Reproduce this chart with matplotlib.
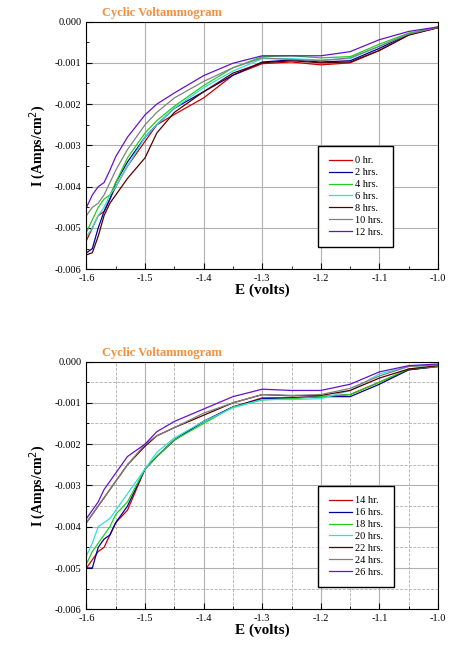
import numpy as np
import matplotlib
matplotlib.use('Agg')
import matplotlib.pyplot as plt
from matplotlib.ticker import MultipleLocator, FormatStrFormatter

plt.rcParams['font.family'] = ['Liberation Serif', 'DejaVu Serif']

E = [-1.6, -1.59, -1.58, -1.57, -1.56, -1.55, -1.53, -1.5, -1.48, -1.45,
     -1.4, -1.35, -1.3, -1.25, -1.2, -1.15, -1.1, -1.05, -1.0]

# first panel, 0-12 hrs (current in A/cm^2)
top_labels = ['0 hr.', '2 hrs.', '4 hrs.', '6 hrs.', '8 hrs.', '10 hrs.', '12 hrs.']
i_0h = [-0.0053, -0.0050, -0.0047, -0.0046, -0.0043, -0.0040, -0.0035, -0.0029, -0.0025, -0.00225,
        -0.00185, -0.0013, -0.00102, -0.00098, -0.00105, -0.0010, -0.0007, -0.00032, -0.00015]
i_2h = [-0.0056, -0.0055, -0.0050, -0.0046, -0.0043, -0.0039, -0.0034, -0.0028, -0.0025, -0.0021,
        -0.0017, -0.0013, -0.00098, -0.00093, -0.00098, -0.00095, -0.00065, -0.0003, -0.00014]
i_4h = [-0.0051, -0.0048, -0.0045, -0.0043, -0.0042, -0.0039, -0.0033, -0.0027, -0.0024, -0.00205,
        -0.00155, -0.00112, -0.00085, -0.00083, -0.00088, -0.00085, -0.00055, -0.00028, -0.00014]
i_6h = [-0.0052, -0.0050, -0.0047, -0.0045, -0.0042, -0.0040, -0.0035, -0.0028, -0.0025, -0.0021,
        -0.0016, -0.0012, -0.0009, -0.0009, -0.00093, -0.0009, -0.0006, -0.0003, -0.00015]
i_8h = [-0.00565, -0.0056, -0.0052, -0.0047, -0.0044, -0.0042, -0.0038, -0.0033, -0.0027, -0.0022,
        -0.0017, -0.00125, -0.0010, -0.00095, -0.0010, -0.00098, -0.0007, -0.00033, -0.00015]
i_10h = [-0.0047, -0.0045, -0.0044, -0.0042, -0.0039, -0.0036, -0.0031, -0.0025, -0.0022, -0.00185,
         -0.00145, -0.00112, -0.00088, -0.00092, -0.00095, -0.00088, -0.0006, -0.0003, -0.00014]
i_12h = [-0.0045, -0.0042, -0.0040, -0.0039, -0.0036, -0.00327, -0.0028, -0.00226, -0.0020, -0.00173,
         -0.00131, -0.00101, -0.00083, -0.00083, -0.00083, -0.00073, -0.00044, -0.00024, -0.00013]
top_series = [i_0h, i_2h, i_4h, i_6h, i_8h, i_10h, i_12h]

# second panel, 14-26 hrs
bot_labels = ['14 hr.', '16 hrs.', '18 hrs.', '20 hrs.', '22 hrs.', '24 hrs.', '26 hrs.']
i_14h = [-0.0050, -0.0048, -0.0046, -0.0045, -0.0042, -0.0039, -0.0036, -0.0026, -0.0023, -0.0019,
         -0.00145, -0.0011, -0.00088, -0.00088, -0.00085, -0.0008, -0.0005, -0.0002, -0.00012]
i_16h = [-0.0050, -0.0050, -0.0045, -0.0043, -0.0042, -0.0039, -0.0035, -0.0026, -0.0023, -0.0019,
         -0.00145, -0.0011, -0.0009, -0.00088, -0.00085, -0.00085, -0.00055, -0.0002, -0.00012]
i_18h = [-0.0049, -0.0046, -0.0044, -0.0042, -0.0040, -0.0037, -0.0034, -0.0026, -0.0023, -0.0019,
         -0.0015, -0.0011, -0.00093, -0.0009, -0.00085, -0.0008, -0.0005, -0.00018, -0.00012]
i_20h = [-0.0047, -0.0044, -0.0040, -0.0039, -0.0038, -0.0036, -0.0032, -0.0026, -0.0022, -0.00185,
         -0.00145, -0.00112, -0.00092, -0.00092, -0.0009, -0.0007, -0.0003, -0.00012, -0.00008]
i_22h = [-0.0039, -0.0037, -0.0035, -0.0033, -0.0031, -0.0029, -0.0025, -0.00205, -0.0018, -0.0016,
         -0.0013, -0.0010, -0.0008, -0.00083, -0.00082, -0.0007, -0.0004, -0.00018, -0.0001]
i_24h = [-0.0039, -0.0037, -0.0035, -0.0033, -0.0031, -0.0029, -0.0025, -0.0020, -0.0018, -0.0016,
         -0.00125, -0.0010, -0.0008, -0.00082, -0.0008, -0.00065, -0.00035, -0.00012, -0.00008]
i_26h = [-0.0038, -0.0036, -0.0034, -0.0031, -0.0029, -0.0027, -0.0023, -0.0020, -0.0017, -0.00145,
         -0.00115, -0.00085, -0.00067, -0.0007, -0.0007, -0.00055, -0.00025, -0.0001, -0.00006]
bot_series = [i_14h, i_16h, i_18h, i_20h, i_22h, i_24h, i_26h]

colors = ['#cc0000', '#000099', '#22cc22', '#33dddd', '#550000', '#808080', '#6611cc']


def draw_panel(ax, series, labels, minor_grid):
    for y, lab, c in zip(series, labels, colors):
        ax.plot(E, y, color=c, lw=0.9, label=lab)
    ax.set_xlim(-1.6, -1.0)
    ax.set_ylim(-0.006, 0.0)
    ax.xaxis.set_major_locator(MultipleLocator(0.1))
    ax.xaxis.set_minor_locator(MultipleLocator(0.05))
    ax.yaxis.set_major_locator(MultipleLocator(0.001))
    ax.yaxis.set_minor_locator(MultipleLocator(0.0005))
    ax.xaxis.set_major_formatter(FormatStrFormatter('%.1f'))
    ax.yaxis.set_major_formatter(FormatStrFormatter('%.3f'))
    ax.tick_params(which='both', direction='in', labelsize=7.5)
    ax.tick_params(which='major', length=4)
    ax.tick_params(which='minor', length=2)
    ax.grid(which='major', color='#b0b0b0', lw=0.8)
    if minor_grid:
        ax.grid(which='minor', color='#b0b0b0', lw=0.6, ls='--')
    ax.set_axisbelow(True)
    ax.set_xlabel('E (volts)', fontsize=11, fontweight='bold', labelpad=0)
    ax.set_ylabel('I (Amps/cm$^2$)', fontsize=10, fontweight='bold', labelpad=5)
    ax.text(0.045, 1.01, 'Cyclic Voltammogram', transform=ax.transAxes, color='#f39040',
            fontsize=9, fontweight='bold', va='bottom', ha='left')
    leg = ax.legend(loc='upper left', bbox_to_anchor=(0.645, 0.52), fontsize=7.5,
                    fancybox=False, edgecolor='black', framealpha=1,
                    handlelength=2.2, handletextpad=0.3, labelspacing=0.25,
                    borderpad=1.0)
    leg.get_frame().set_linewidth(1.0)


fig = plt.figure(figsize=(4.69, 6.52), dpi=100)
ax1 = fig.add_axes([0.1844, 0.587, 0.7495, 0.380])
ax2 = fig.add_axes([0.1844, 0.0655, 0.7495, 0.380])
draw_panel(ax1, top_series, top_labels, False)
draw_panel(ax2, bot_series, bot_labels, True)

fig.savefig('out.png', dpi=100)
